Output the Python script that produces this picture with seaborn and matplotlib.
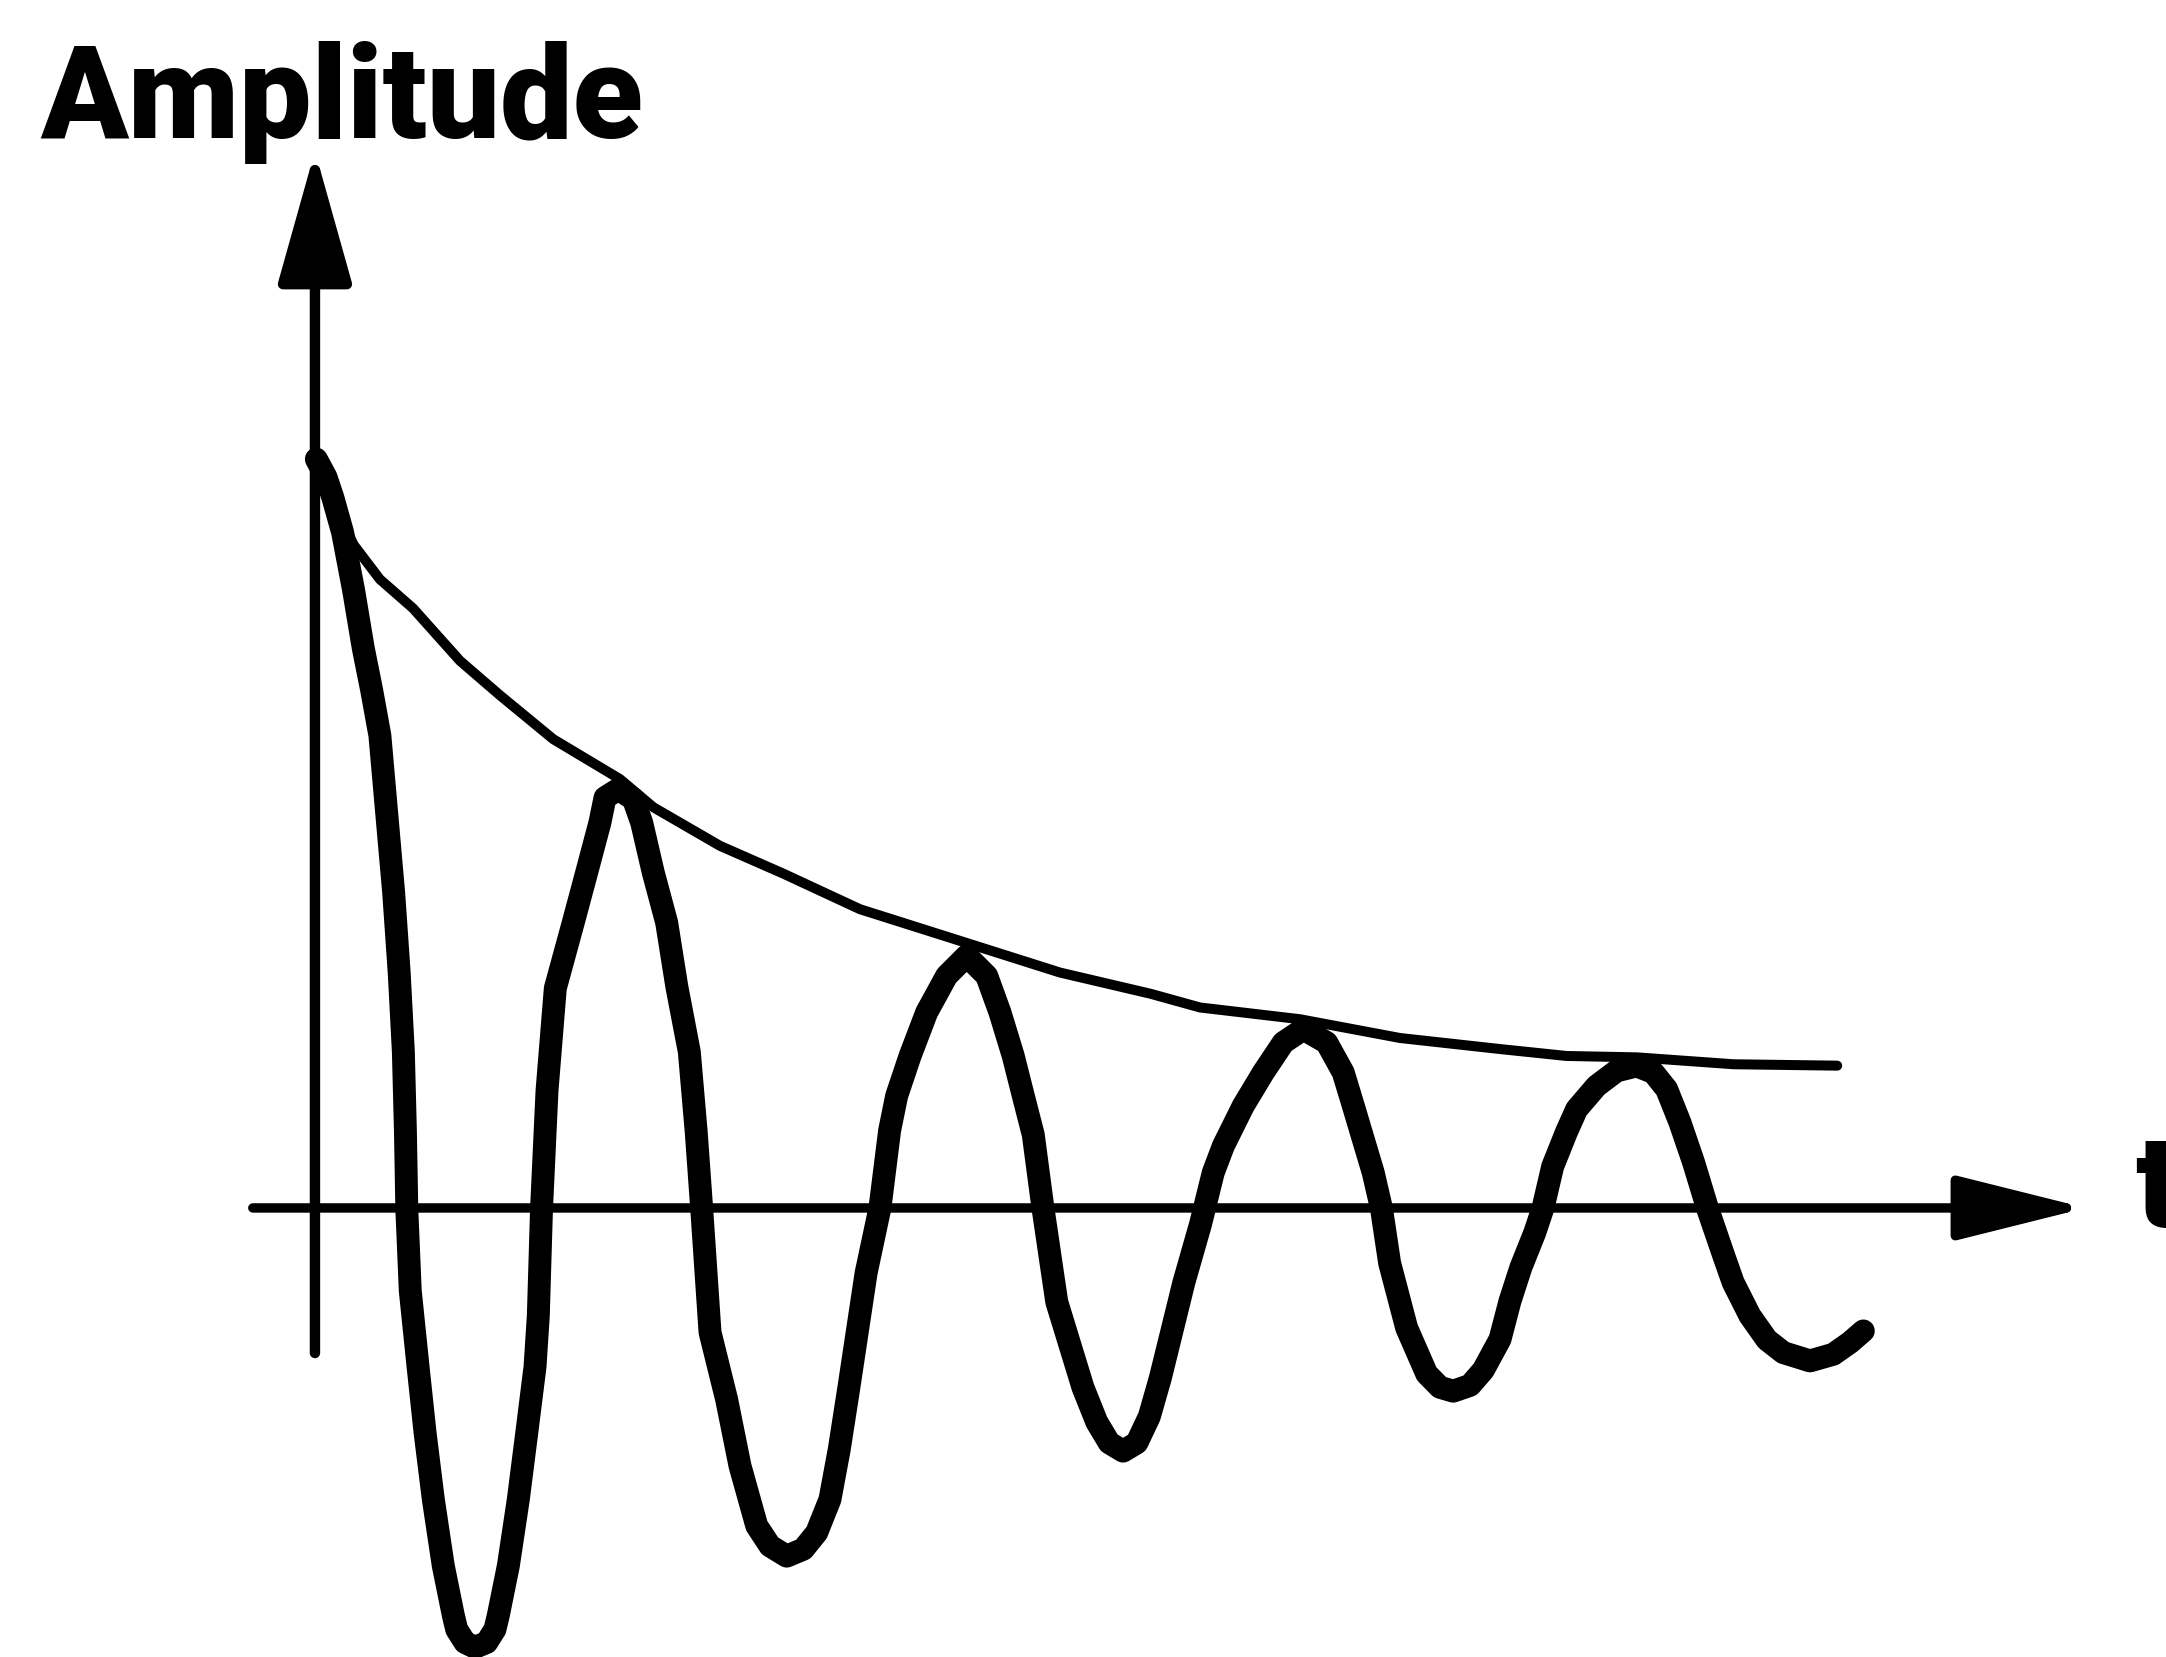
import matplotlib
matplotlib.use("Agg")
import matplotlib.pyplot as plt
import pandas as pd
import seaborn as sns

# Damped oscillation: time (arbitrary units) and amplitude (arbitrary units)
osc_t = [1, 8, 13, 20, 28, 35, 41, 47, 52, 57, 61, 64, 65.5, 66.5, 69, 74.6, 79.7,
         85.7, 92.9, 100.2, 102.6, 108.6, 115.9, 124.3, 130.3, 132.7, 140, 147.2,
         153.3, 159.3, 161.7, 164, 168, 174, 187, 196.7, 206.3, 210, 219.6, 230.5,
         236.5, 244.9, 254.6, 262, 271, 276, 280, 286, 298, 307.7, 319.8, 329.4,
         341.5, 353.5, 363.2, 372.8, 379.5, 386.5, 399, 409, 416, 421.1, 430.8,
         442.8, 457.3, 471.8, 486.3, 495.9, 505.5, 512.8, 520, 527, 537, 556, 566,
         575, 585, 595, 604, 612, 629, 641, 650.3, 657.6, 672, 686.5, 701, 715.5,
         732.4, 744.4, 751.7, 758.9, 766.1, 772, 778, 790.3, 804.8, 814.4, 824,
         836.2, 845.8, 857.9, 865.1, 873, 883, 889, 896, 906, 913.4, 927.8, 942.3,
         956.8, 968.9, 978.5, 988.1, 998, 1008, 1020, 1026.7, 1038.8, 1051.1, 1063,
         1082.3, 1099.1, 1111.2, 1120.9]
osc_amp = [542, 529, 514, 489, 447, 405, 375, 342, 285, 228, 170, 113, 55, -1, -60,
           -114.5, -162.6, -211, -259, -295, -305, -314.5, -318, -314.5, -305, -295,
           -259, -211, -163, -115, -78, -1, 85, 159, 206.6, 242.8, 279, 297, 303, 296,
           279, 242.8, 206.6, 160, 113, 55, -1, -90, -138.5, -186.7, -230, -244.6,
           -252, -247, -235, -211, -175, -130, -47, 0, 56, 81.1, 110, 141.5, 168,
           182.5, 168, 141.5, 110, 81.1, 53, 0, -68, -130, -155, -170, -176, -170,
           -151, -123, -54, -12, 25.6, 44.9, 73.9, 98, 119.7, 129.4, 119.7, 98, 73.9,
           49.7, 25.6, 0, -40, -86.8, -120, -129.8, -132.6, -128.4, -117.3, -95,
           -67.4, -43, -18, 0, 30, 55, 71.5, 88.3, 99.2, 102.8, 98, 86, 62, 33, 0,
           -35, -54, -78, -95.4, -104.7, -110.7, -105.9, -97.4, -89]

# Decaying envelope touching the peaks
env_t = [1, 12, 28, 47, 71, 105, 134, 172.5, 220.8, 245, 293.2, 339, 394.6, 467,
         539.3, 605, 640.7, 713.1, 785.5, 858, 906, 957, 1027, 1102]
env_amp = [542, 513, 480, 455, 434, 396, 371, 339.3, 310.4, 290, 262.1, 242, 216.2,
           193.3, 170.4, 155, 145.1, 136.6, 123, 115, 110, 109, 104, 103]

# Extent of the drawn coordinate axes
t_axis = [-45, 1282]
amp_axis = [-105, 765]

x_label = "t"
y_label = "Amplitude"

sns.set_style("white")
plt.rcParams["font.family"] = ["Roboto", "DejaVu Sans"]

fig = plt.figure(figsize=(21.66, 16.58), dpi=100)
ax = fig.add_axes([0, 0, 1, 1])
ax.set_xlim(-228, 1340)
ax.set_ylim(-325, 875)
ax.set_axis_off()

osc = pd.DataFrame({"t": osc_t, "amp": osc_amp})
env = pd.DataFrame({"t": env_t, "amp": env_amp})

sns.lineplot(data=env, x="t", y="amp", sort=False, estimator=None, ax=ax,
             color="black", linewidth=7.2, solid_joinstyle="round",
             solid_capstyle="round")
sns.lineplot(data=osc, x="t", y="amp", sort=False, estimator=None, ax=ax,
             color="black", linewidth=16.5, solid_joinstyle="round",
             solid_capstyle="round")
ax.lines[0].set_linewidth(7.2)
ax.lines[1].set_linewidth(16.5)

# Coordinate axes with filled arrowheads
ax.annotate("", xy=(0, amp_axis[1]), xytext=(0, amp_axis[0]),
            arrowprops=dict(arrowstyle="-|>,head_length=82,head_width=23",
                            mutation_scale=1, lw=7.5, color="black",
                            shrinkA=0, shrinkB=0))
ax.annotate("", xy=(t_axis[1], 0), xytext=(t_axis[0], 0),
            arrowprops=dict(arrowstyle="-|>,head_length=80,head_width=20",
                            mutation_scale=1, lw=6.8, color="black",
                            shrinkA=0, shrinkB=0))

ax.text(-199, 775, y_label, ha="left", va="baseline", fontsize=93,
        fontweight=900, color="black")
ax.text(1318, -13, x_label, ha="left", va="baseline", fontsize=93,
        fontweight=900, color="black")

fig.savefig("out.png", dpi=100, facecolor="white")
